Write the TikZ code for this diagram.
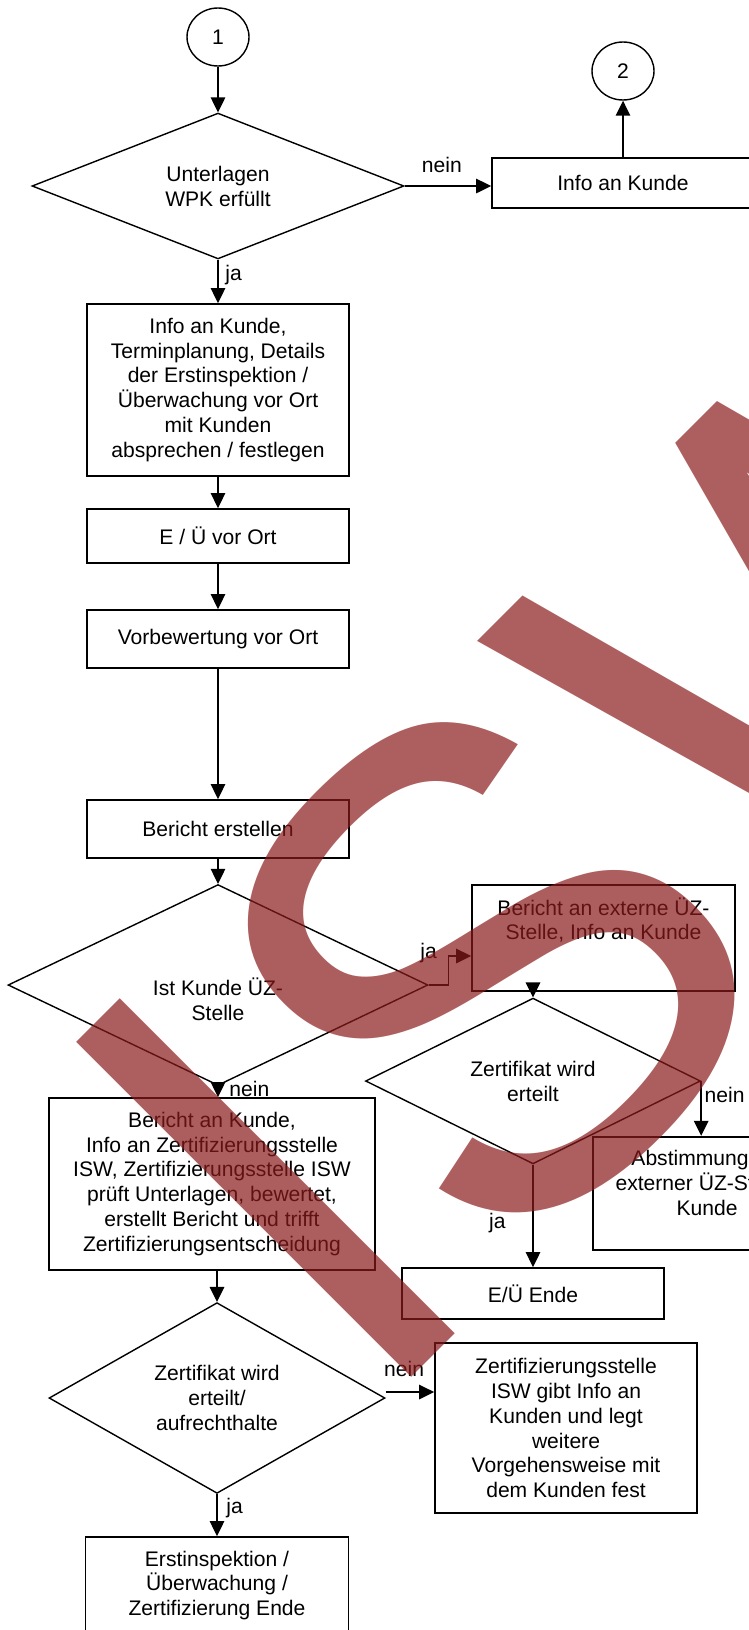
\documentclass[tikz,border=0pt]{standalone}
\usepackage{fontspec}
\setmainfont{Liberation Sans}
\newfontfamily\wmfont[FakeStretch=0.96]{Liberation Sans}
\usepackage{tikz}
\usetikzlibrary{arrows.meta, positioning, shapes.geometric}
\definecolor{wmred}{RGB}{138,25,25}
\tikzstyle{proc} = [rectangle, draw, line width=1.05pt, fill=white, align=center,
                    minimum width=5.24cm]
\tikzstyle{dec}  = [diamond, draw, line width=0.8pt, fill=white, align=center, inner sep=0pt]
\tikzstyle{conn} = [ellipse, draw, line width=0.8pt, fill=white,
                    minimum width=1.24cm, minimum height=1.16cm]
\tikzstyle{arr}  = [-{Triangle[length=0.3cm, width=0.29cm]}, line width=0.8pt]
\tikzstyle{lbl}  = [inner sep=1pt]
\newcommand{\lifttext}[1]{\rule[-#1]{0pt}{0pt}}
\newcommand{\droptext}[1]{\rule{0pt}{#1}}

\begin{document}
\begin{tikzpicture}[x=0.02cm, y=-0.02cm,
      every node/.style={font=\fontsize{12}{14.2}\selectfont},
      wmark/.style={anchor=base west, inner sep=0pt, rotate=45, text=wmred,
                    text opacity=0.7, font=\wmfont\fontsize{392}{392}\selectfont},
    ]
    \useasboundingbox (0,0) rectangle (749,1630);

    \node[conn] (c1) at (218,37) {1};
    \node[conn] (c2) at (623,71) {2};
    \node[dec, minimum width=7.44cm, minimum height=2.78cm] (d1) at (218,186)
      {Unterlagen\\WPK erfüllt};
    \node[proc, minimum height=1.0cm] (t1) at (623,183) {Info an Kunde};
    \node[proc, minimum height=3.44cm] (b1) at (218,390)
      {Info an Kunde,\\Terminplanung, Details\\der Erstinspektion /\\Überwachung vor Ort\\mit Kunden\\absprechen / festlegen};
    \node[proc, minimum height=1.08cm] (b2) at (218,536) {E / Ü vor Ort};
    \node[proc, minimum height=1.16cm] (b3) at (218,639) {Vorbewertung vor Ort};
    \node[proc, minimum height=1.16cm] (b4) at (218,829) {Bericht erstellen};
    \node[dec, minimum width=8.4cm, minimum height=3.68cm] (d2) at (218,985)
      {\droptext{26pt}Ist Kunde ÜZ-\\Stelle};
    \node[proc, minimum width=5.26cm, minimum height=2.12cm] (bext) at (603.5,938)
      {Bericht an externe ÜZ-\\Stelle, Info an Kunde\lifttext{22pt}};
    \node[dec, minimum width=6.7cm, minimum height=2.68cm] (d3) at (533,1081)
      {Zertifikat wird\\erteilt};
    \node[proc, minimum width=4.56cm, minimum height=2.27cm] (abst) at (707,1193.5)
      {Abstimmung mit\\externer ÜZ-Stelle /\\Kunde\lifttext{12pt}};
    \node[proc, minimum height=1.02cm] (ende) at (533,1293.5) {E/Ü Ende};
    \node[proc, minimum width=6.52cm, minimum height=3.44cm] (b5) at (212,1184)
      {Bericht an Kunde,\\Info an Zertifizierungsstelle\\ISW, Zertifizierungsstelle ISW\\prüft Unterlagen, bewertet,\\erstellt Bericht und trifft\\Zertifizierungsentscheidung};
    \node[dec, minimum width=6.72cm, minimum height=3.76cm] (d4) at (217,1398)
      {Zertifikat wird\\erteilt/\\aufrechthalte};
    \node[proc, minimum height=3.4cm] (zisw) at (566,1428)
      {Zertifizierungsstelle\\ISW gibt Info an\\Kunden und legt\\weitere\\Vorgehensweise mit\\dem Kunden fest};
    \node[proc, minimum width=5.26cm, minimum height=1.94cm] (b6) at (217,1585.5)
      {Erstinspektion /\\Überwachung /\\Zertifizierung Ende};

    \draw[arr] (c1) -- (d1);
    \draw[arr] (d1.east) -- node[lbl, pos=0.43, above=0.22cm] {nein} (d1.east -| t1.west);
    \draw[arr] (t1) -- (c2);
    \draw[arr] (d1) -- node[lbl, pos=0.35, right=0.1cm] {ja} (b1);
    \draw[arr] (b1) -- (b2);
    \draw[arr] (b2) -- (b3);
    \draw[arr] (b3) -- (b4);
    \draw[arr] (b4) -- (d2);
    \draw[arr] (d2.east) node[lbl, above=0.4cm] {ja} -- ++(20,0) |- ([yshift=-0.36cm]bext.west);
    \draw[arr] (d3.north |- bext.south) -- (d3);
    \draw[arr] (d3.east) -- node[lbl, pos=0.25, right=0.02cm] {nein} (d3.east |- abst.north);
    \draw[arr] (d3) -- node[lbl, pos=0.575, left=0.5cm] {ja} (ende);
    \draw[arr] (d2.south) -- node[lbl, pos=0.27, right=0.18cm] {nein} (d2.south |- b5.north);
    \draw[arr] (d4.north |- b5.south) -- (d4);
    \draw[arr] ([yshift=0.12cm]d4.east) -- node[lbl, pos=0.38, above=0.26cm] {nein}
      ([yshift=0.12cm]d4.east -| zisw.west);
    \draw[arr] (d4) -- node[lbl, pos=0.33, right=0.14cm] {ja} (b6);

    \node[wmark] (wm) at (368,1421) {ISW};
  \end{tikzpicture}
\end{document}
